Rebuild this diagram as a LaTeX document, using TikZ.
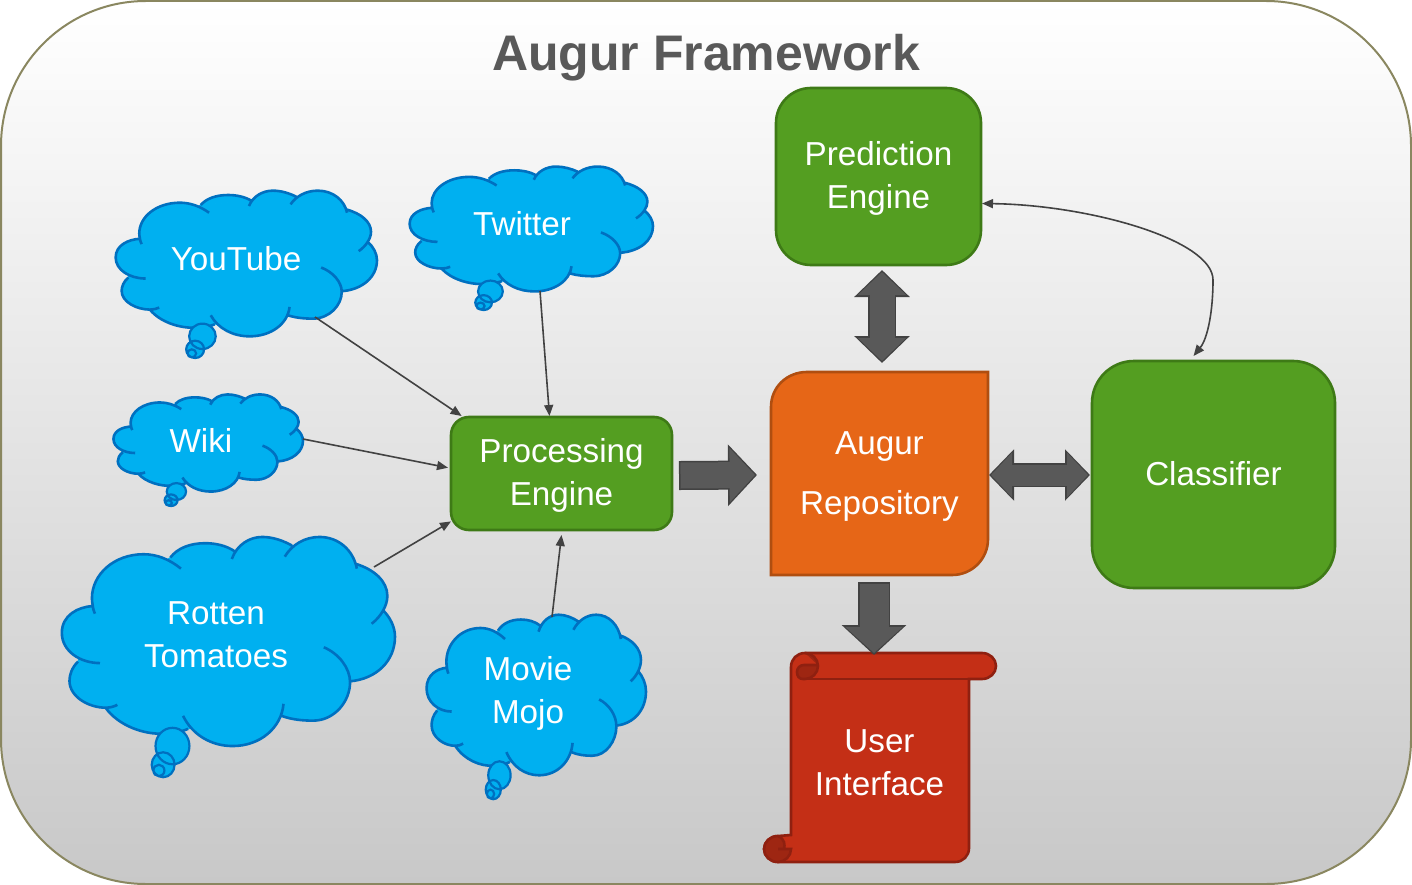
\documentclass[tikz,border=0pt]{standalone}
\usepackage{fontspec}
\setmainfont{Liberation Sans}
\usetikzlibrary{arrows.meta}

\definecolor{frameline}{HTML}{8A8760}
\definecolor{shadelow}{HTML}{C8C8C8}
\definecolor{titlegrey}{HTML}{595959}
\definecolor{cloudblue}{HTML}{00B0F0}
\definecolor{cloudline}{HTML}{0070C0}
\definecolor{boxgreen}{HTML}{549E21}
\definecolor{boxline}{HTML}{3E7A16}
\definecolor{repofill}{HTML}{E66617}
\definecolor{repoline}{HTML}{B04E10}
\definecolor{scrollfill}{HTML}{C42F16}
\definecolor{scrollline}{HTML}{8F2010}
\definecolor{curlfill}{HTML}{9E2612}
\definecolor{blockfill}{HTML}{595959}
\definecolor{blockline}{HTML}{424242}

\newcommand{\dropline}[1]{\rule{0pt}{#1pt}}

\tikzset{
    boxtext/.style = {font = {\fontsize{33.2}{43}\selectfont}, white, align = center, outer sep = 0pt, inner sep = 0pt},
    greenbox/.style = {boxtext, draw = boxline, fill = boxgreen, line width = 2.6pt},
    thinarrow/.style = {draw = blockline, line width = 1.6pt, -{Triangle[length = 11pt, width = 9pt]}},
    thintwo/.style = {draw = blockline, line width = 1.6pt, {Triangle[length = 11pt, width = 9pt]}-{Triangle[length = 11pt, width = 9pt]}},
    % outer shaft, head width, head length, then the same for the inner pass
    blockone/.style n args = {6}{draw = blockfill, line width = #4pt, -{Triangle[length = #6pt, width = #5pt]},
        preaction = {draw = blockline, line width = #1pt, shorten > = -2pt, shorten < = -1.5pt, -{Triangle[length = #3pt, width = #2pt]}}},
    blocktwo/.style n args = {6}{draw = blockfill, line width = #4pt, {Triangle[length = #6pt, width = #5pt]}-{Triangle[length = #6pt, width = #5pt]},
        preaction = {draw = blockline, line width = #1pt, shorten > = -2pt, shorten < = -2pt, {Triangle[length = #3pt, width = #2pt]}-{Triangle[length = #3pt, width = #2pt]}}},
}

% left, top, width, height of the puffs
\newcommand{\thoughtcloud}[4]{
    \begin{scope}[shift = {(#1,#2)}, xscale = #3/788, yscale = #4/440, shift = {(-45,-60)}]
        \filldraw[cloudblue, line width = 1pt] (120,206) -- (85,322) -- (150,418) -- (345,462) -- (565,435) -- (727,365) -- (805,215) -- (740,118) -- (590,80) -- (455,92) -- (303,105) -- cycle;
        \filldraw[fill = cloudblue, draw = cloudline, line width = 2.6pt]
            (125,222) .. controls (122,215) and (120,210) .. (120,206) .. controls (85,208) and (47,225) .. (47,262) .. controls (47,300) and (90,325) .. (137,325)
            (85,322) .. controls (70,335) and (65,350) .. (65,362) .. controls (65,395) and (110,418) .. (150,418) .. controls (160,418) and (170,416) .. (178,412)
            (150,418) .. controls (180,455) and (240,475) .. (290,472) .. controls (310,472) and (330,468) .. (345,462)
            (333,435) .. controls (355,475) and (400,498) .. (450,498) .. controls (515,498) and (565,460) .. (570,410)
            (565,435) .. controls (590,443) and (615,445) .. (640,445) .. controls (690,445) and (727,405) .. (727,365) .. controls (727,335) and (700,305) .. (665,292)
            (727,363) .. controls (790,358) and (833,320) .. (833,270) .. controls (833,250) and (822,230) .. (805,215)
            (778,243) .. controls (800,228) and (815,205) .. (815,185) .. controls (815,155) and (785,130) .. (740,118)
            (743,128) .. controls (735,90) and (700,62) .. (655,62) .. controls (620,62) and (590,78) .. (573,103)
            (590,80) .. controls (570,70) and (545,62) .. (520,62) .. controls (490,62) and (460,78) .. (448,108)
            (455,92) .. controls (435,80) and (410,75) .. (385,75) .. controls (350,75) and (320,85) .. (303,105)
            (328,128) .. controls (300,108) and (270,98) .. (240,98) .. controls (170,98) and (118,140) .. (118,190) .. controls (118,195) and (119,200) .. (120,206);
        \fill[cloudblue] (308,498) circle [x radius = 40, y radius = 38] (286,537) circle [x radius = 27, y radius = 26];
        \draw[cloudline, line width = 2.2pt] (308,498) circle [x radius = 40, y radius = 38] (286,537) circle [x radius = 27, y radius = 26] (276,549) circle [x radius = 13, y radius = 12];
    \end{scope}
}

\begin{document}
\begin{tikzpicture}[x = 1pt, y = -1pt]
    \useasboundingbox (0,0) rectangle (1412,885);
    \draw[frameline, line width = 2pt, top color = white, bottom color = shadelow, rounded corners = 145pt] (1,1) rectangle (1411,884);
    \node[font = {\fontsize{50}{60}\selectfont\bfseries}, titlegrey] (title) at (706,58) {Augur Framework};

    \thoughtcloud{115}{190}{262}{147}
    \thoughtcloud{409}{166}{244}{126}
    \thoughtcloud{113}{394}{190}{98}
    \thoughtcloud{61}{536}{334}{211}
    \thoughtcloud{426}{614}{220}{162}

    \node[boxtext] (youtube) at (236,259) {YouTube};
    \node[boxtext] (twitter) at (522,224) {Twitter};
    \node[boxtext] (wiki) at (201,440) {Wiki};
    \node[boxtext] (rotten) at (216,635) {Rotten\\Tomatoes};
    \node[boxtext] (mojo) at (528,693) {Movie\\Mojo};

    \coordinate (youtube tail) at (315,317);
    \coordinate (twitter tail) at (540,291);
    \coordinate (wiki tail) at (303,439);
    \coordinate (rotten tail) at (374,567);
    \coordinate (mojo tail) at (552,617);

    \node[greenbox, minimum width = 221pt, minimum height = 113pt, rounded corners = 18pt] (processing) at (561.5,473.5) {\dropline{28}Processing\\Engine};
    \node[greenbox, minimum width = 205pt, minimum height = 177pt, rounded corners = 35pt] (prediction) at (878.5,176.5) {\dropline{28}Prediction\\Engine};
    \node[greenbox, minimum width = 243pt, minimum height = 227pt, rounded corners = 42pt] (classifier) at (1213.5,474.5) {\raisebox{1.5pt}{Classifier}};

    \draw[draw = repoline, fill = repofill, line width = 2.6pt] (771,575) -- (771,407) .. controls (771,387) and (787,372) .. (807,372) -- (988,372) -- (988,539) .. controls (988,559) and (972,575) .. (952,575) -- cycle;
    \node[boxtext, minimum width = 219pt, minimum height = 206pt] (repository) at (879.5,473) {\dropline{30}Augur\\[17pt]Repository};

    \draw[draw = scrollline, fill = scrollfill, line width = 2.6pt] (791,835) -- (791,667) .. controls (791,659) and (797,653) .. (805,653) -- (982,653) .. controls (990,653) and (996,659) .. (996,666) .. controls (996,673) and (990,679) .. (982,679) -- (969,679) -- (969,848) .. controls (969,856) and (963,862) .. (955,862) -- (778,862) .. controls (770,862) and (764,856) .. (764,849) .. controls (764,842) and (770,836) .. (778,836) -- cycle;
    \draw[draw = scrollline, fill = curlfill, line width = 2.6pt] (805,653) .. controls (812,653) and (818,659) .. (818,666) .. controls (818,673) and (812,679) .. (805,679) -- (803,679) .. controls (799,679) and (797,676) .. (797,672) .. controls (797,668) and (800,665) .. (804,665) -- (818,665);
    \draw[scrollline, line width = 2.6pt] (804,679) -- (969,679);
    \draw[draw = scrollline, fill = curlfill, line width = 2.6pt] (778,836) .. controls (770,836) and (764,842) .. (764,849) .. controls (764,856) and (770,862) .. (778,862) .. controls (785,862) and (791,856) .. (791,849) -- (778,849) -- (784,849) .. controls (785,845) and (785,839) .. (778,836);
    \node[boxtext, minimum width = 180pt, minimum height = 202pt] (interface) at (879.5,762.5) {User\\Interface};

    \draw[blockone = {29}{60}{29}{26}{53}{25.4}] ([xshift = 8.5pt, yshift = -2pt]processing.east) -- ([xshift = -15pt, yshift = -2pt]repository.west);
    \draw[blocktwo = {28}{54}{27}{25}{47}{23}] ([xshift = 3.5pt, yshift = -7pt]prediction.south) -- ([xshift = 2.5pt, yshift = 9pt]repository.north);
    \draw[blocktwo = {24}{50}{25}{21}{43.5}{21}] ([xshift = 2pt, yshift = -2pt]repository.east) -- ([xshift = -4pt, yshift = -0.5pt]classifier.west);
    \draw[blockone = {32}{63}{30}{29}{56}{26}] ([xshift = -5.5pt, yshift = -7.5pt]repository.south) -- ([xshift = -5.5pt, yshift = 8.5pt]interface.north);

    \draw[thinarrow] (youtube tail) -- ([xshift = -2pt, yshift = 1pt]processing.150);
    \draw[thinarrow] (twitter tail) -- ([yshift = 1pt]processing.102);
    \draw[thinarrow] (wiki tail) -- ([xshift = -3pt]processing.177);
    \draw[thinarrow] (rotten tail) -- ([yshift = -1pt]processing.203);
    \draw[thinarrow] (mojo tail) -- ([yshift = -5pt]processing.south);
    \draw[thintwo] ([xshift = 1pt, yshift = -27pt]prediction.east) .. controls (1090,205) and (1213,240) .. (1213,280) .. controls (1213,310) and (1208,338) .. ([xshift = -20pt, yshift = 5pt]classifier.north);
\end{tikzpicture}
\end{document}
